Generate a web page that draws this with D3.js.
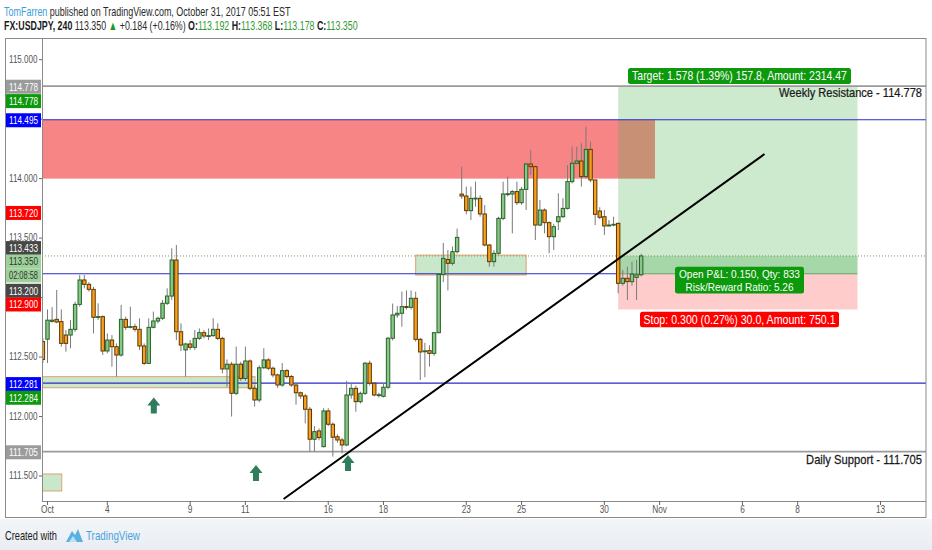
<!DOCTYPE html>
<html><head><meta charset="utf-8">
<script src="https://cdn.jsdelivr.net/npm/d3@7"></script>
<style>html,body{margin:0;padding:0;background:#fff;}svg{display:block;font-family:"Liberation Sans",Arial,sans-serif;}</style>
</head><body><svg id="c" width="932" height="550"></svg>
<script>
// ---------------- DATA ----------------
// 4H candles, first one at bar index -1 (bar 0 = "Oct" tick)
const firstBar = -1;
const candles = [
[112.63,112.66,112.45,112.48],[112.65,112.90,112.45,112.81],[112.80,112.92,112.79,112.81],[112.817,113.064,112.784,112.795],
[112.798,112.90,112.587,112.615],[112.685,112.727,112.545,112.615],[112.685,112.812,112.573,112.733],[112.733,112.966,112.713,112.943],
[112.943,113.19,112.924,113.148],[113.148,113.19,113.078,113.111],[113.111,113.13,113.05,113.069],[113.069,113.09,112.699,112.834],
[112.834,112.952,112.812,112.840],[112.840,112.85,112.517,112.551],[112.551,112.699,112.531,112.643],[112.643,112.685,112.419,112.587],
[112.587,112.615,112.335,112.517],[112.517,112.938,112.503,112.817],[112.817,112.84,112.727,112.750],[112.750,112.924,112.741,112.756],
[112.756,112.78,112.713,112.733],[112.733,112.826,112.559,112.593],[112.593,112.615,112.433,112.447],[112.447,112.826,112.442,112.750],
[112.750,112.882,112.741,112.803],[112.803,112.84,112.784,112.826],[112.826,112.98,112.812,112.952],[112.952,113.078,112.938,113.013],
[113.013,113.414,112.98,113.316],[113.316,113.442,112.643,112.713],[112.713,112.784,112.55,112.601],[112.56,112.62,112.335,112.61],
[112.61,112.643,112.56,112.582],[112.582,112.727,112.56,112.657],[112.657,112.741,112.643,112.705],[112.705,112.727,112.657,112.677],
[112.677,112.741,112.643,112.680],[112.68,112.826,112.67,112.733],[112.733,112.784,112.643,112.657],[112.657,112.67,112.363,112.40],
[112.40,112.48,112.25,112.44],[112.44,112.46,112.0,112.195],[112.195,112.588,112.18,112.44],[112.44,112.46,112.30,112.32],
[112.32,112.588,112.30,112.467],[112.467,112.48,112.22,112.237],[112.237,112.26,112.083,112.139],[112.139,112.43,112.12,112.41],
[112.41,112.574,112.40,112.476],[112.476,112.49,112.39,112.406],[112.406,112.42,112.33,112.35],[112.35,112.36,112.24,112.265],
[112.265,112.45,112.25,112.386],[112.386,112.40,112.32,112.336],[112.336,112.35,112.25,112.265],[112.265,112.28,112.10,112.20],
[112.20,112.21,112.15,112.173],[112.173,112.19,111.943,112.061],[112.061,112.08,111.705,111.809],[111.809,111.92,111.705,111.873],
[111.879,111.90,111.80,111.823],[111.747,112.07,111.74,112.047],[112.047,112.07,111.92,111.935],[111.935,111.95,111.663,111.826],
[111.83,111.85,111.78,111.803],[111.803,111.82,111.69,111.761],[111.761,112.30,111.75,112.181],[112.181,112.28,112.15,112.237],
[112.237,112.26,112.04,112.125],[112.125,112.21,112.11,112.195],[112.195,112.46,112.18,112.448],[112.448,112.47,112.26,112.28],
[112.28,112.29,112.17,112.181],[112.181,112.20,112.16,112.183],[112.17,112.28,112.16,112.246],[112.246,112.67,112.23,112.658],
[112.658,112.95,112.64,112.854],[112.854,112.93,112.83,112.868],[112.868,113.05,112.755,112.924],[112.924,113.06,112.90,112.918],
[112.918,113.06,112.90,112.994],[112.994,113.05,112.63,112.649],[112.649,112.66,112.307,112.543],[112.545,112.62,112.33,112.552],
[112.554,112.60,112.42,112.531],[112.531,112.71,112.51,112.705],[112.705,113.20,112.70,113.195],[113.195,113.46,113.13,113.33],
[113.32,113.40,113.06,113.288],[113.288,113.43,113.27,113.386],[113.386,113.58,113.37,113.506],[113.87,114.10,113.83,113.854],
[113.854,113.933,113.70,113.731],[113.731,113.933,113.652,113.834],[113.834,113.975,113.764,113.836],[113.834,113.86,113.68,113.703],
[113.703,113.778,113.43,113.442],[113.442,113.45,113.26,113.302],[113.302,113.40,113.26,113.372],[113.372,113.68,113.36,113.666],
[113.666,113.975,113.65,113.871],[113.871,114.017,113.85,113.873],[113.871,113.905,113.54,113.891],[113.891,113.975,113.778,113.798],
[113.798,113.93,113.78,113.910],[113.910,114.134,113.736,114.123],[114.123,114.241,114.031,114.101],[114.101,114.11,113.484,113.610],
[113.610,113.82,113.60,113.736],[113.736,113.75,113.54,113.630],[113.630,113.64,113.372,113.512],[113.512,113.62,113.40,113.596],
[113.638,113.877,113.568,113.680],[113.680,113.835,113.67,113.750],[113.750,114.115,113.74,113.975],[113.975,114.269,113.96,114.129],
[114.129,114.269,114.12,114.148],[114.148,114.297,113.933,114.017],[114.017,114.437,114.00,114.246],[114.246,114.311,113.97,113.989],
[113.989,113.99,113.61,113.70],[113.728,113.76,113.66,113.675],[113.680,113.736,113.526,113.602],[113.602,113.652,113.60,113.610],
[113.610,113.680,113.60,113.616],[113.624,113.63,113.036,113.120],[113.120,113.232,113.10,113.162],[113.162,113.26,112.98,113.134],
[113.134,113.302,113.10,113.198],[113.17,113.316,112.98,113.192],[113.192,113.368,113.178,113.350]
];
const xTickLabels = ["Oct","4","9","11","16","18","23","25","30","Nov","6","8","13"];
const xTickBars   = [0,13,31,43,61,73,91,103,121,133,151,163,181];
const priceTicks  = [111.5,112.0,112.5,113.0,113.5,114.0,114.5,115.0];

const weeklyResistance = 114.778;
const dailySupport = 111.705;
const blueLevels = [114.495, 112.281];
const supplyZone = [114.0, 114.495];
const supplyZoneEndBar = 132;
const demandBox = [112.242, 112.335]; const demandBoxEndBar = 45.1;
const midBox = [113.19, 113.357];     const midBoxBars = [80, 104];
const smallBox = [111.374, 111.517];  const smallBoxEndBar = 3.1;

const entryPrice = 113.200, targetPrice = 114.778, stopPrice = 112.900, lastPrice = 113.350;
const positionBars = [124, 176];
const lastBar = 129;

const trendBars = [51.3, 155.8];
const trendPrices = [111.307, 114.207];

const arrowBars = [23.1, 45.3, 65.3];
const arrowPrices = [112.093, 111.525, 111.61];

const tagPrices = [114.778, 114.778, 114.495, 113.720, 113.433, 113.350, 113.200, 112.900, 112.281, 112.284, 111.705];
const tagTexts  = ["114.778","114.778","114.495","113.720","113.433","113.350","113.200","112.900","112.281","112.284","111.705"];
const countdownText = "02:08:58";

const targetText = "Target: 1.578 (1.39%) 157.8, Amount: 2314.47";
const stopText = "Stop: 0.300 (0.27%) 30.0, Amount: 750.1";
const pnlLines = ["Open P&L: 0.150, Qty: 833", "Risk/Reward Ratio: 5.26"];

// ---------------- LAYOUT / STYLE ----------------
const P = {l:42, r:926, t:39, b:501};
const tagBg   = ["#9b9b9b","#0c990c","#0000ff","#ff0000","#474747","#9dd19a","#474747","#ff0000","#0000ff","#0c990c","#9b9b9b"];
const tagFg   = ["#fff","#fff","#fff","#fff","#fff","#333","#fff","#fff","#fff","#fff","#fff"];
const tagNudge= [0.6, 15, 0.5, 1, 2, 5.5, 17, -5, 1, 15, 0.7];

const svg = d3.select('#c');
const x = d3.scaleLinear().domain([0,181]).range([47.5,880.5]);
const y = d3.scaleLinear().domain([111.5,115]).range([476,59.7]);

function fitText(t, w){
  const n = t.node().getComputedTextLength();
  t.attr('transform', t.attr('data-tr') + ` scale(${w/n},1)`);
  return t;
}
function addText(g, px, py, s, o){
  o = o || {};
  const t = g.append('text').attr('data-tr',`translate(${px},${py})`)
    .attr('transform',`translate(${px},${py}) scale(${o.sx||0.8},1)`)
    .attr('text-anchor', o.anchor||'start').attr('font-size', o.size||11)
    .attr('fill', o.fill||'#333').text(s);
  if (o.weight) t.attr('font-weight', o.weight);
  if (o.thick) t.attr('stroke', o.fill||'#333').attr('stroke-width', o.thick);
  if (o.w) fitText(t, o.w);
  return t;
}

// background
svg.append('rect').attr('width',932).attr('height',550).attr('fill','#fff');
const defs = svg.append('defs');
const fg = defs.append('linearGradient').attr('id','fg').attr('x1',0).attr('x2',0).attr('y1',0).attr('y2',1);
fg.append('stop').attr('offset','0%').attr('stop-color','#f3f5f8');
fg.append('stop').attr('offset','100%').attr('stop-color','#e9edf2');
svg.append('rect').attr('x',0).attr('y',519).attr('width',932).attr('height',31).attr('fill','url(#fg)');

defs.append('clipPath').attr('id','clip').append('rect')
  .attr('x',P.l).attr('y',P.t).attr('width',P.r-P.l).attr('height',P.b-P.t);
const plot = svg.append('g').attr('clip-path','url(#clip)');

// supply zone (red)
plot.append('rect').attr('x',P.l).attr('width',x(supplyZoneEndBar)-P.l)
  .attr('y',y(supplyZone[1])).attr('height',y(supplyZone[0])-y(supplyZone[1]))
  .attr('fill','rgba(243,52,52,0.6)');

// position tool
const px0 = x(positionBars[0]), px1 = x(positionBars[1]);
plot.append('rect').attr('x',px0).attr('width',px1-px0).attr('y',y(targetPrice)).attr('height',y(entryPrice)-y(targetPrice))
  .attr('fill','rgba(76,175,80,0.28)');
plot.append('rect').attr('x',px0).attr('width',px1-px0).attr('y',y(entryPrice)).attr('height',y(stopPrice)-y(entryPrice))
  .attr('fill','rgba(255,0,0,0.2)');
plot.append('rect').attr('x',px0).attr('width',px1-px0).attr('y',y(lastPrice)).attr('height',y(entryPrice)-y(lastPrice))
  .attr('fill','rgba(76,175,80,0.3)');
plot.append('line').attr('x1',px0).attr('x2',px1).attr('y1',y(entryPrice)).attr('y2',y(entryPrice))
  .attr('stroke','rgba(40,120,40,0.55)').attr('stroke-width',1);

// boxes
function box(b0,b1,p0,p1){
  plot.append('rect').attr('x',b0).attr('width',b1-b0).attr('y',y(p1)).attr('height',y(p0)-y(p1))
    .attr('fill','rgba(76,175,80,0.3)').attr('stroke','#e0a070').attr('stroke-width',1);
}
box(P.l-2, x(demandBoxEndBar), demandBox[0], demandBox[1]);
box(x(midBoxBars[0]), x(midBoxBars[1]), midBox[0], midBox[1]);
box(P.l-2, x(smallBoxEndBar), smallBox[0], smallBox[1]);

// horizontal lines
function hline(p, x0, x1, col, w, dash){
  const l = plot.append('line').attr('x1',x0).attr('x2',x1).attr('y1',y(p)).attr('y2',y(p))
    .attr('stroke',col).attr('stroke-width',w);
  if (dash) l.attr('stroke-dasharray',dash);
}
hline(weeklyResistance, P.l, P.r, '#9a9a9a', 1.6);
hline(dailySupport, P.l, P.r, '#9a9a9a', 1.6);
blueLevels.forEach(p => hline(p, P.l, P.r, '#2b2bc8', 1.1));
hline(entryPrice, P.l, px0, '#2b2bc8', 1.1);
hline(lastPrice, P.l, P.r, '#8f8f45', 1, '1,2');

// dashed pnl line
plot.append('line').attr('x1',x(positionBars[0])).attr('y1',y(entryPrice)).attr('x2',x(lastBar)).attr('y2',y(lastPrice))
  .attr('stroke','#b9c9b9').attr('stroke-width',1).attr('stroke-dasharray','3,2');

// candles
const cg = plot.append('g');
candles.forEach((d,i) => {
  const [o,h,l,c] = d;
  const cx = x(i + firstBar);
  const up = c >= o;
  cg.append('line').attr('x1',cx).attr('x2',cx).attr('y1',y(h)).attr('y2',y(l))
    .attr('stroke','#7a7a7a').attr('stroke-width',1);
  const top = y(Math.max(o,c)), bot = y(Math.min(o,c));
  cg.append('rect').attr('x',cx-1.7).attr('width',3.4).attr('y',top).attr('height',Math.max(0.8,bot-top))
    .attr('fill', up ? '#86c886' : '#f7a01c')
    .attr('stroke', up ? '#2a602a' : '#5e3604').attr('stroke-width',1);
});

// trendline
plot.append('path').datum(trendBars.map((b,i)=>[x(b), y(trendPrices[i])]))
  .attr('d', d3.line()).attr('stroke','#000').attr('stroke-width',2).attr('fill','none');

// arrows
arrowBars.forEach((b,i) => {
  const cx = x(b), cy = y(arrowPrices[i]);
  plot.append('path').attr('d',
    `M${cx-6.5},${cy} L${cx},${cy-8} L${cx+6.5},${cy} L${cx+3},${cy} L${cx+3},${cy+8} L${cx-3},${cy+8} L${cx-3},${cy} Z`)
    .attr('fill','#2f7d5c');
});

// level labels
const tg = svg.append('g');
addText(tg, 922, y(weeklyResistance)+11, "Weekly Resistance - 114.778", {anchor:'end', size:13, fill:'#1a1a1a', w:143, thick:0.25});
addText(tg, 922, y(dailySupport)+12, "Daily Support - 111.705", {anchor:'end', size:13, fill:'#1a1a1a', w:116, thick:0.25});

// position labels
const pcx = 739.5;
function labelBox(cx, yTop, w, h, col){
  tg.append('rect').attr('x',cx-w/2).attr('y',yTop).attr('width',w).attr('height',h).attr('rx',2.5).attr('fill',col);
}
labelBox(pcx, y(targetPrice)-18.2, 223, 16, '#0c990c');
addText(tg, pcx, y(targetPrice)-5.7, targetText, {anchor:'middle', size:13, fill:'#fff', w:215});
labelBox(pcx, y(entryPrice)-7, 129, 26.6, '#0c990c');
addText(tg, pcx, y(entryPrice)+4.6, pnlLines[0], {anchor:'middle', size:10.5, fill:'#fff', w:121});
addText(tg, pcx, y(entryPrice)+17.2, pnlLines[1], {anchor:'middle', size:10.5, fill:'#fff', w:108});
labelBox(pcx, y(stopPrice)+2.2, 199, 15.6, '#ff0000');
addText(tg, pcx, y(stopPrice)+14.3, stopText, {anchor:'middle', size:13, fill:'#fff', w:192});

// axes / frame
const ag = svg.append('g');
ag.append('rect').attr('x',5.5).attr('y',38.5).attr('width',920.5).attr('height',479).attr('fill','none').attr('stroke','#8a8a8a');
ag.append('line').attr('x1',P.l+0.5).attr('x2',P.l+0.5).attr('y1',P.t).attr('y2',P.b).attr('stroke','#8a8a8a');
ag.append('line').attr('x1',P.l).attr('x2',P.r).attr('y1',P.b+0.5).attr('y2',P.b+0.5).attr('stroke','#8a8a8a');

priceTicks.forEach(p => {
  ag.append('line').attr('x1',39).attr('x2',42).attr('y1',y(p)).attr('y2',y(p)).attr('stroke','#666');
  const covered = tagPrices.some((tp,i) => Math.abs(y(tp) + tagNudge[i] - y(p)) < 7.5);
  if (!covered) addText(ag, 37.5, y(p)+3.2, d3.format('.3f')(p), {anchor:'end', size:10.5, fill:'#555', w:28.5});
});
xTickBars.forEach((b,i) => {
  const xx = x(b);
  ag.append('line').attr('x1',xx).attr('x2',xx).attr('y1',P.b).attr('y2',P.b+4).attr('stroke','#666');
  addText(ag, xx, 512.5, xTickLabels[i], {anchor:'middle', size:11, fill:'#555', sx:0.75});
});

// price tags
tagPrices.forEach((p,i) => {
  const cy = y(p) + tagNudge[i];
  const h = 14;
  ag.append('rect').attr('x',6).attr('y',cy-h/2).attr('width',35).attr('height',h).attr('fill',tagBg[i]);
  addText(ag, 23.5, cy+3.9, tagTexts[i], {anchor:'middle', size:11, fill:tagFg[i], w:29});
  if (i === 5) {
    ag.append('rect').attr('x',6).attr('y',cy+h/2).attr('width',35).attr('height',h).attr('fill',tagBg[i]);
    addText(ag, 23.5, cy+h+3.9, countdownText, {anchor:'middle', size:11, fill:'#333', w:29});
  }
});

// header
const h1 = svg.append('text').attr('data-tr','translate(4,15.5)').attr('font-size',13);
h1.append('tspan').attr('fill','#3aa0d8').text('TomFarren');
h1.append('tspan').attr('fill','#2a2a2a').text(' published on TradingView.com, October 31, 2017 05:51 EST');
fitText(h1, 287);

const h2 = svg.append('text').attr('data-tr','translate(4,30)').attr('font-size',13);
const green = '#2f9a2f';
h2.append('tspan').attr('fill','#1a1a1a').attr('font-weight','bold').text('FX:USDJPY, 240 ');
h2.append('tspan').attr('fill','#2a2a2a').text('113.350 ');
h2.append('tspan').attr('fill','#1f9a1f').text('▲');
h2.append('tspan').attr('fill','#2a2a2a').text(' +0.184 (+0.16%) ');
[['O:','113.192'],['H:','113.368'],['L:','113.178'],['C:','113.350']].forEach((v,i) => {
  h2.append('tspan').attr('fill','#1a1a1a').attr('font-weight','bold').text((i?' ':'') + v[0]);
  h2.append('tspan').attr('fill',green).text(v[1]);
});
fitText(h2, 354);

// footer
addText(svg, 5, 539.5, 'Created with', {size:13, fill:'#1a1a1a', w:52});
const lg = svg.append('g').attr('transform','translate(66,528)');
lg.append('path').attr('d','M0,14 L6,3 L9,7 L12,1 L17,14 Z').attr('fill','#5ab0e0');
lg.append('path').attr('d','M3,14 L7,8 L11,14 Z').attr('fill','#bfe0f2');
addText(svg, 86, 539.5, 'TradingView', {size:13, fill:'#4aa3df', w:54});
</script></body></html>
